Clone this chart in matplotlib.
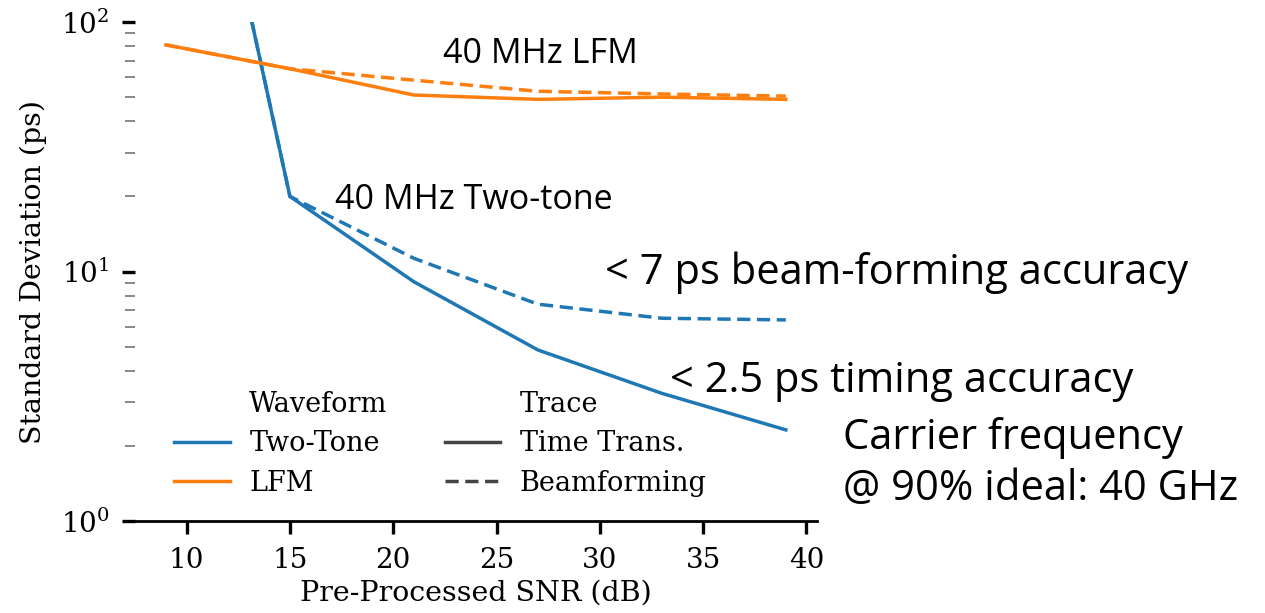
import matplotlib
matplotlib.use("Agg")
import matplotlib.pyplot as plt
from matplotlib.lines import Line2D
from matplotlib.ticker import LogLocator, NullFormatter

plt.rcParams["font.family"] = "DejaVu Serif"
plt.rcParams["mathtext.fontset"] = "dejavuserif"

snr = [9, 15, 21, 27, 33, 39]

# Two-Tone values at 9 dB are off the top of the plot
two_tone_time = [3800, 20, 9.1, 4.85, 3.25, 2.32]
two_tone_beam = [3800, 20, 11.3, 7.4, 6.5, 6.4]
lfm_time = [81, 65, 51, 49, 50, 49]
lfm_beam = [81, 65, 58.5, 52.8, 51.5, 50.5]

blue = "#1f77b4"
orange = "#ff7f0e"
lw = 2.5
dash = (3.8, 1.9)

fig = plt.figure(figsize=(12.65, 6.13), dpi=100)
ax = fig.add_axes([0.1067, 0.150, 0.539, 0.814])

ax.plot(snr, two_tone_time, color=blue, lw=lw)
ax.plot(snr, two_tone_beam, color=blue, lw=lw, ls=(0, dash))
ax.plot(snr, lfm_time, color=orange, lw=lw)
ax.plot(snr, lfm_beam, color=orange, lw=lw, ls=(0, dash))

ax.set_yscale("log")
ax.set_ylim(1, 100)
ax.set_xlim(7.5, 40.5)
ax.set_xticks([10, 15, 20, 25, 30, 35, 40])
ax.yaxis.set_minor_locator(LogLocator(base=10, subs=range(2, 10)))
ax.yaxis.set_minor_formatter(NullFormatter())

for side in ["top", "right", "left"]:
    ax.spines[side].set_visible(False)
ax.spines["bottom"].set_linewidth(2)

ax.tick_params(which="major", length=9.5, width=2.4, labelsize=20, pad=9)
ax.tick_params(which="minor", length=7, width=1.4, color="#888888")

ax.set_xlabel("Pre-Processed SNR (dB)", fontsize=20.5, labelpad=4)
ax.set_ylabel("Standard Deviation (ps)", fontsize=20.5, labelpad=10)

blank = Line2D([], [], linestyle="")
handles = [
    blank,
    Line2D([], [], color=blue, lw=lw),
    Line2D([], [], color=orange, lw=lw),
    blank,
    Line2D([], [], color="#444444", lw=lw),
    Line2D([], [], color="#444444", lw=lw, ls=(0, dash)),
]
labels = ["Waveform", "Two-Tone", "LFM", "Trace", "Time Trans.", "Beamforming"]
ax.legend(handles, labels, ncol=2, frameon=False, fontsize=19.5,
          loc="lower left", bbox_to_anchor=(0.022, 0.0),
          handlelength=2.05, handletextpad=0.72, columnspacing=2.1,
          labelspacing=0.45)

note_font = "Open Sans"
W, H = 1265, 613
notes = [
    ("40 MHz LFM", 443, 63, 24.5),
    ("40 MHz Two-tone", 335, 209, 24.5),
    ("< 7 ps beam-forming accuracy", 605, 284, 30),
    ("< 2.5 ps timing accuracy", 670, 392, 30),
    ("Carrier frequency", 843, 449, 30),
    ("@ 90% ideal: 40 GHz", 843, 500, 30),
]
for text, px, py, size in notes:
    fig.text(px / W, 1 - py / H, text, fontsize=size, family=note_font,
             ha="left", va="baseline", color="black")

fig.savefig("out.png", dpi=100)
